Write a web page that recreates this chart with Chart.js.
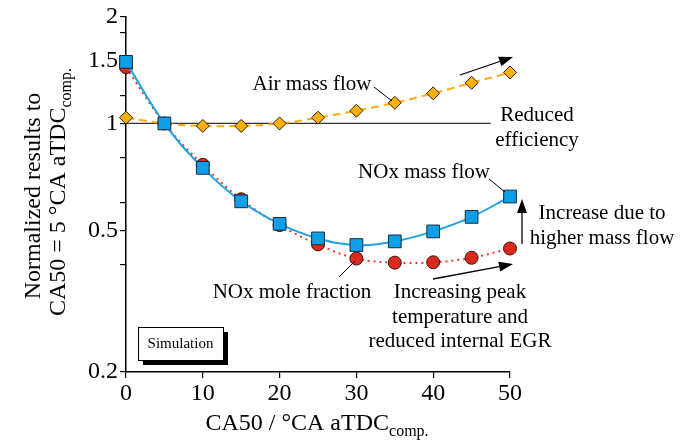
<!DOCTYPE html>
<html>
<head>
<meta charset="utf-8">
<script src="https://cdn.jsdelivr.net/npm/chart.js@4/dist/chart.umd.min.js"></script>
<style>
  html, body { margin: 0; padding: 0; background: #fff; }
  #wrap { width: 694px; height: 442px; }
</style>
</head>
<body>
<div id="wrap"><canvas id="chart" width="694" height="442"></canvas></div>
<script>
// CA50 positions (°CA aTDC)
const ca50 = [0, 5, 10, 15, 20, 25, 30, 35, 40, 45, 50];

// values normalized to CA50 = 5
const noxMassFlow = [1.49, 1.0, 0.75, 0.604, 0.522, 0.475, 0.455, 0.466, 0.497, 0.546, 0.623];
const noxMoleFraction = [1.44, 1.0, 0.765, 0.612, 0.518, 0.457, 0.417, 0.406, 0.407, 0.419, 0.445];
const airMassFlow = [1.038, 1.0, 0.984, 0.984, 1.0, 1.038, 1.086, 1.143, 1.215, 1.301, 1.391];
const referenceLine = [[0, 1], [47.5, 1]];

const yTicks = [0.2, 0.4, 0.5, 0.6, 0.8, 1, 1.2, 1.5, 1.8, 2];
const yTickLabels = [0.2, 0.5, 1, 1.5, 2];

const FONT = '"Liberation Serif", "Times New Roman", serif';

const toPoints = (vals) => vals.map((v, i) => ({ x: ca50[i], y: v }));

// text labels, leader lines and arrows (pixel positions)
const notes = [
  { lines: ['Air mass flow'], x: 312, y: 90 },
  { lines: ['Reduced', 'efficiency'], x: 537, y: 121 },
  { lines: ['NOx mass flow'], x: 424, y: 178 },
  { lines: ['Increase due to', 'higher mass flow'], x: 602, y: 219 },
  { lines: ['NOx mole fraction'], x: 292, y: 298 },
  { lines: ['Increasing peak', 'temperature and', 'reduced internal EGR'], x: 460, y: 298 },
];
const leaders = [[374, 87, 392, 101], [489, 179, 505, 192], [339, 277, 355, 261]];
const arrows = [[460, 75, 513, 57], [522, 244, 522, 199], [433, 279, 513, 264]];

function drawSubText(ctx, main, sub, cx, y, mainSize, subSize) {
  ctx.font = mainSize + 'px ' + FONT;
  const w1 = ctx.measureText(main).width;
  ctx.font = subSize + 'px ' + FONT;
  const w2 = ctx.measureText(sub).width;
  const x0 = cx - (w1 + w2) / 2;
  ctx.textAlign = 'left';
  ctx.textBaseline = 'alphabetic';
  ctx.font = mainSize + 'px ' + FONT;
  ctx.fillText(main, x0, y);
  ctx.font = subSize + 'px ' + FONT;
  ctx.fillText(sub, x0 + w1, y + 6);
}

const annotationsPlugin = {
  id: 'annotations',
  afterDraw(chart) {
    const ctx = chart.ctx;
    ctx.save();
    ctx.fillStyle = '#000';
    ctx.strokeStyle = '#000';

    // axis titles
    drawSubText(ctx, 'CA50 / °CA aTDC', 'comp.', 317, 430, 24, 16);
    ctx.save();
    ctx.translate(40, 196);
    ctx.rotate(-Math.PI / 2);
    ctx.font = '24px ' + FONT;
    ctx.textAlign = 'center';
    ctx.textBaseline = 'alphabetic';
    ctx.fillText('Normalized results to', 0, 0);
    ctx.restore();
    ctx.save();
    ctx.translate(65, 192);
    ctx.rotate(-Math.PI / 2);
    drawSubText(ctx, 'CA50 = 5 °CA aTDC', 'comp.', 0, 0, 24, 16);
    ctx.restore();

    // labels
    ctx.font = '21px ' + FONT;
    ctx.textAlign = 'center';
    ctx.textBaseline = 'alphabetic';
    notes.forEach(n => {
      n.lines.forEach((t, i) => ctx.fillText(t, n.x, n.y + i * 24.5));
    });

    // leader lines
    ctx.lineWidth = 1;
    leaders.forEach(([x1, y1, x2, y2]) => {
      ctx.beginPath();
      ctx.moveTo(x1, y1);
      ctx.lineTo(x2, y2);
      ctx.stroke();
    });

    // arrows
    ctx.lineWidth = 1.3;
    arrows.forEach(([x1, y1, x2, y2]) => {
      const a = Math.atan2(y2 - y1, x2 - x1);
      const len = 14, hw = 5;
      const bx = x2 - len * Math.cos(a), by = y2 - len * Math.sin(a);
      ctx.beginPath();
      ctx.moveTo(x1, y1);
      ctx.lineTo(bx, by);
      ctx.stroke();
      ctx.beginPath();
      ctx.moveTo(x2, y2);
      ctx.lineTo(bx + hw * Math.sin(a), by - hw * Math.cos(a));
      ctx.lineTo(bx - hw * Math.sin(a), by + hw * Math.cos(a));
      ctx.closePath();
      ctx.fill();
    });

    // "Simulation" box with drop shadow
    ctx.fillStyle = '#000';
    ctx.fillRect(143, 332, 85, 33);
    ctx.fillStyle = '#fff';
    ctx.fillRect(138, 327, 85, 33);
    ctx.lineWidth = 1;
    ctx.strokeRect(138.5, 327.5, 85, 33);
    ctx.fillStyle = '#000';
    ctx.font = '15px ' + FONT;
    ctx.textAlign = 'center';
    ctx.textBaseline = 'middle';
    ctx.fillText('Simulation', 180.5, 344);
    ctx.restore();
  }
};

new Chart(document.getElementById('chart'), {
  type: 'line',
  data: {
    datasets: [
      {
        label: 'NOx mass flow',
        data: toPoints(noxMassFlow),
        borderColor: '#1ea3e4',
        borderWidth: 2,
        tension: 0.4,
        pointStyle: 'rect',
        pointRadius: 9,
        pointBackgroundColor: '#0f9ee8',
        pointBorderColor: '#1c2a38',
        pointBorderWidth: 1,
        clip: false,
        order: 1,
      },
      {
        label: 'NOx mole fraction',
        data: toPoints(noxMoleFraction),
        borderColor: '#e8392b',
        borderWidth: 2,
        borderDash: [2, 4],
        tension: 0.4,
        pointStyle: 'circle',
        pointRadius: 6.5,
        pointBackgroundColor: '#da2a1c',
        pointBorderColor: '#3a1410',
        pointBorderWidth: 1,
        clip: false,
        order: 2,
      },
      {
        label: 'Air mass flow',
        data: toPoints(airMassFlow),
        borderColor: '#ffab0f',
        borderWidth: 2,
        borderDash: [8, 5],
        tension: 0.4,
        pointStyle: 'rectRot',
        pointRadius: 6.5,
        pointBackgroundColor: '#ffb000',
        pointBorderColor: '#2a2010',
        pointBorderWidth: 1,
        clip: false,
        order: 3,
      },
      {
        label: 'reference',
        data: referenceLine.map(([x, y]) => ({ x, y })),
        borderColor: '#333',
        borderWidth: 1.3,
        pointRadius: 0,
        order: 4,
      },
    ],
  },
  options: {
    responsive: false,
    animation: false,
    layout: { padding: { left: 0, right: 184, top: 16, bottom: 0 } },
    plugins: { legend: { display: false }, tooltip: { enabled: false } },
    scales: {
      x: {
        type: 'linear',
        min: 0,
        max: 50,
        afterFit(scale) { scale.height = 70; },
        ticks: { stepSize: 10, color: '#000', padding: 1, font: { family: FONT, size: 24 } },
        grid: { drawOnChartArea: false, drawTicks: true, tickLength: 6, color: '#000', lineWidth: 1.2 },
        border: { display: true, color: '#000', width: 1.5 },
      },
      y: {
        type: 'logarithmic',
        min: 0.2,
        max: 2,
        afterFit(scale) { scale.width = 126; },
        afterBuildTicks(scale) { scale.ticks = yTicks.map(v => ({ value: v })); },
        ticks: {
          color: '#000',
          padding: 2,
          autoSkip: false,
          font: { family: FONT, size: 24 },
          callback: (v) => (yTickLabels.includes(v) ? String(v) : ''),
        },
        grid: { drawOnChartArea: false, drawTicks: true, tickLength: 6, color: '#000', lineWidth: 1.2 },
        border: { display: true, color: '#000', width: 1.5 },
      },
    },
  },
  plugins: [annotationsPlugin],
});
</script>
</body>
</html>
